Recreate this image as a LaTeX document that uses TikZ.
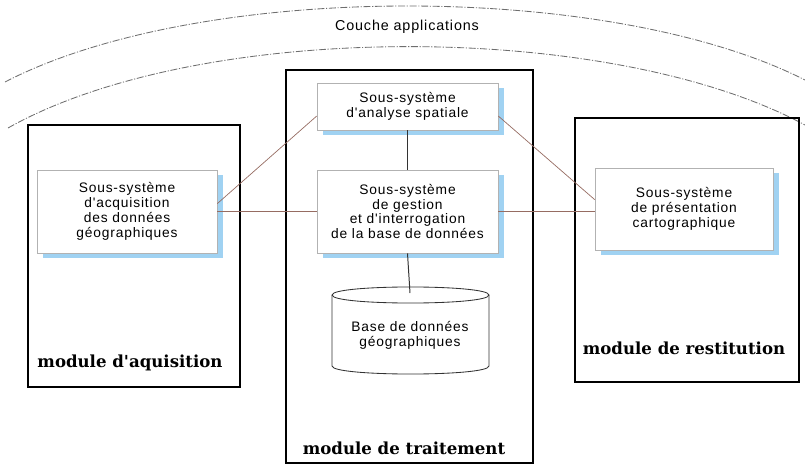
\documentclass[tikz,border=0pt]{standalone}
\usepackage{fontspec}
\usetikzlibrary{shadows}
\newfontfamily\labfont[LetterSpace=6]{Liberation Sans}
\newfontfamily\modfont{DejaVu Serif}
\definecolor{linkc}{RGB}{150,108,98}
\definecolor{shadowc}{RGB}{160,210,242}
\definecolor{arcc}{RGB}{110,110,110}
\begin{document}
\begin{tikzpicture}[x=0.025cm, y=-0.025cm,
  module/.style={draw=black, line width=1.1pt, inner sep=0pt},
  modlabel/.style={font=\modfont\bfseries\fontsize{11.8}{13}\selectfont, inner sep=0pt},
  subsys/.style={draw=gray!60, line width=0.4pt, fill=white, align=center,
    inner sep=0pt, font=\labfont\fontsize{9.8}{10.6}\selectfont,
    drop shadow={shadow xshift=4pt, shadow yshift=-3.5pt, fill=shadowc, opacity=1}},
  link/.style={draw=linkc, line width=0.5pt},
  vlink/.style={draw=black!80, line width=0.7pt},
  layer/.style={draw=arcc, line width=0.6pt, dash pattern=on 5pt off 1.2pt on 0.8pt off 1.2pt}]
\useasboundingbox (0,0) rectangle (805,466);

% application layer arcs
\draw[layer] (5,82) .. controls (200,-19) and (610,-19) .. (805,80);
\draw[layer] (8,128) .. controls (200,20) and (610,20) .. (805,125);
\node[font=\labfont\fontsize{10.2}{11}\selectfont, inner sep=0pt] (couche) at (407,27) {Couche applications};

% the three modules
\node[module, minimum width=5.3cm, minimum height=6.55cm] (macq) at (134,256) {};
\node[module, minimum width=6.175cm, minimum height=9.825cm] (mtrt) at (409.5,266.5) {};
\node[module, minimum width=5.6cm, minimum height=6.6cm] (mres) at (687,250) {};

\node[modlabel] (lacq) at (130,363) {module d'aquisition};
\node[modlabel] (ltrt) at (404,448) {module de traitement};
\node[modlabel] (lres) at (684,348) {module de restitution};

% subsystems
\node[subsys, minimum width=4.5cm, minimum height=2.075cm] (acq) at (127,211.5)
  {Sous-système\\d'acquisition\\des données\\géographiques};
\node[subsys, minimum width=4.525cm, minimum height=1.175cm] (ana) at (407.5,106.5)
  {Sous-système\\d'analyse spatiale};
\node[subsys, minimum width=4.525cm, minimum height=2.075cm] (gest) at (407.5,211.5)
  {Sous-système\\de gestion\\et d'interrogation\\de la base de données};
\node[subsys, minimum width=4.45cm, minimum height=2.05cm] (pres) at (684,209)
  {Sous-système\\de présentation\\cartographique};

% database cylinder
\draw[line width=0.6pt, draw=black!80, fill=white]
  (332,295) .. controls (332,284.3) and (489,284.3) .. (489,295)
  -- (489,366) .. controls (489,376.7) and (332,376.7) .. (332,366) -- cycle;
\draw[line width=0.6pt, draw=black!80]
  (332,295) .. controls (332,305.7) and (489,305.7) .. (489,295);
\coordinate (dbtop) at (410,293);
\node[font=\labfont\fontsize{9.8}{10.6}\selectfont, align=center, inner sep=0pt] (db) at (410,335)
  {Base de données\\géographiques};

% connectors
\draw[link] (acq.east) -- (gest.west);
\draw[link] (gest.east) -- (gest.east -| pres.west);
\draw[link] (acq.5) -- (ana.186);
\draw[link] (ana.354) -- (pres.174);
\draw[vlink] (ana.south) -- (gest.north);
\draw[vlink] (gest.south) -- (dbtop);
\end{tikzpicture}
\end{document}
